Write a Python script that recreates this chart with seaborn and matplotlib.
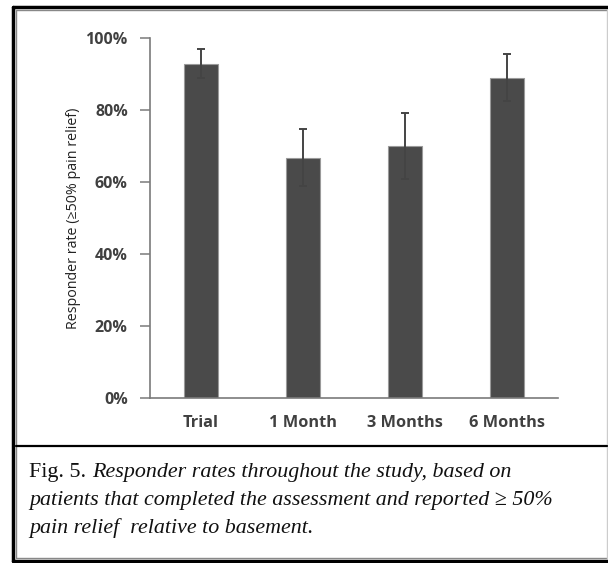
import matplotlib
matplotlib.use("Agg")
import matplotlib.pyplot as plt
import matplotlib.lines as mlines
import seaborn as sns
import numpy as np
import pandas as pd

# Responder rates (percent)
categories = ["Trial", "1 Month", "3 Months", "6 Months"]
rates = [92.8, 66.8, 70.0, 88.8]
err_lo = [3.9, 7.8, 9.2, 6.4]
err_hi = [4.2, 7.8, 9.2, 6.7]
yticks = [0, 20, 40, 60, 80, 100]
ylabel = "Responder rate (\u226550% pain relief)"
caption_head = "Fig. 5. "
caption_lines = ["Responder rates throughout the study, based on",
                 "patients that completed the assessment and reported \u2265 50%",
                 "pain relief  relative to basement."]

W, H = 608, 563
sns.set_style("white")
plt.rcParams['font.family'] = ['Open Sans', 'DejaVu Sans']

fig = plt.figure(figsize=(W / 100, H / 100), dpi=100)
ax = fig.add_axes([150 / W, 1 - 398 / H, 408 / W, 360 / H])

df = pd.DataFrame({"cat": categories, "rate": rates})
sns.barplot(data=df, x="cat", y="rate", color="#4a4a4a", saturation=1,
            width=0.33, errorbar=None, edgecolor="#9a9a9a", linewidth=0.8, ax=ax)
ax.errorbar(np.arange(len(categories)), rates, yerr=[err_lo, err_hi], fmt="none",
            ecolor="#444444", elinewidth=1.4, capsize=3, capthick=1.4)

ax.set_xlim(-0.5, len(categories) - 0.5)
ax.set_ylim(0, 100)
ax.set_yticks(yticks)
ax.set_yticklabels(["{}%".format(t) for t in yticks])
ax.set_xlabel("")
ax.set_ylabel(ylabel, fontsize=10.3, color="#222222", labelpad=3)
sns.despine(ax=ax)
for s in ["left", "bottom"]:
    ax.spines[s].set_color("#7a7a7a")
    ax.spines[s].set_linewidth(1.2)
ax.tick_params(axis="y", which="both", left=True, length=7, width=1.1, color="#7a7a7a",
               labelsize=11.5, labelcolor="#404040", pad=9)
ax.tick_params(axis="x", bottom=False, labelsize=11.8, labelcolor="#404040", pad=9)
for lab in ax.get_xticklabels() + ax.get_yticklabels():
    lab.set_fontweight("bold")

# frame around the figure and the caption
def px(x, y):
    return x / W, 1 - y / H

fig.add_artist(mlines.Line2D([px(12.5, 0)[0], 1.0], [px(0, 6.5)[1]] * 2, color="black", lw=2.5))
fig.add_artist(mlines.Line2D([px(12.5, 0)[0]] * 2, [px(0, 6.5)[1], px(0, 561)[1]], color="black", lw=2.5))
fig.add_artist(mlines.Line2D([px(12.5, 0)[0], 1.0], [px(0, 561)[1]] * 2, color="black", lw=2.5))
fig.add_artist(mlines.Line2D([px(16, 0)[0], px(606.5, 0)[0]], [px(0, 9.5)[1]] * 2, color="#888888", lw=1))
fig.add_artist(mlines.Line2D([px(16, 0)[0]] * 2, [px(0, 9.5)[1], px(0, 558)[1]], color="#888888", lw=1))
fig.add_artist(mlines.Line2D([px(16, 0)[0], px(606.5, 0)[0]], [px(0, 558)[1]] * 2, color="#888888", lw=1))
fig.add_artist(mlines.Line2D([px(606.5, 0)[0]] * 2, [px(0, 9.5)[1], px(0, 558)[1]], color="#cccccc", lw=1))
fig.add_artist(mlines.Line2D([px(16, 0)[0], px(606.5, 0)[0]], [px(0, 446)[1]] * 2, color="black", lw=1.6))

# caption
cap_font = ['Liberation Serif', 'DejaVu Serif']
cap_size = 15.8
x0, y0 = px(29, 477)
head = fig.text(x0, y0, caption_head, fontsize=cap_size, family=cap_font, color="#111111")
fig.canvas.draw()
bb = head.get_window_extent()
fig.text(bb.x1 / W, y0, caption_lines[0], fontsize=cap_size, family=cap_font,
         style="italic", color="#111111")
for i, line in enumerate(caption_lines[1:]):
    fig.text(x0, px(0, 505 + 27.5 * i)[1], line, fontsize=cap_size, family=cap_font,
             style="italic", color="#111111")

fig.savefig("out.png", dpi=100)
